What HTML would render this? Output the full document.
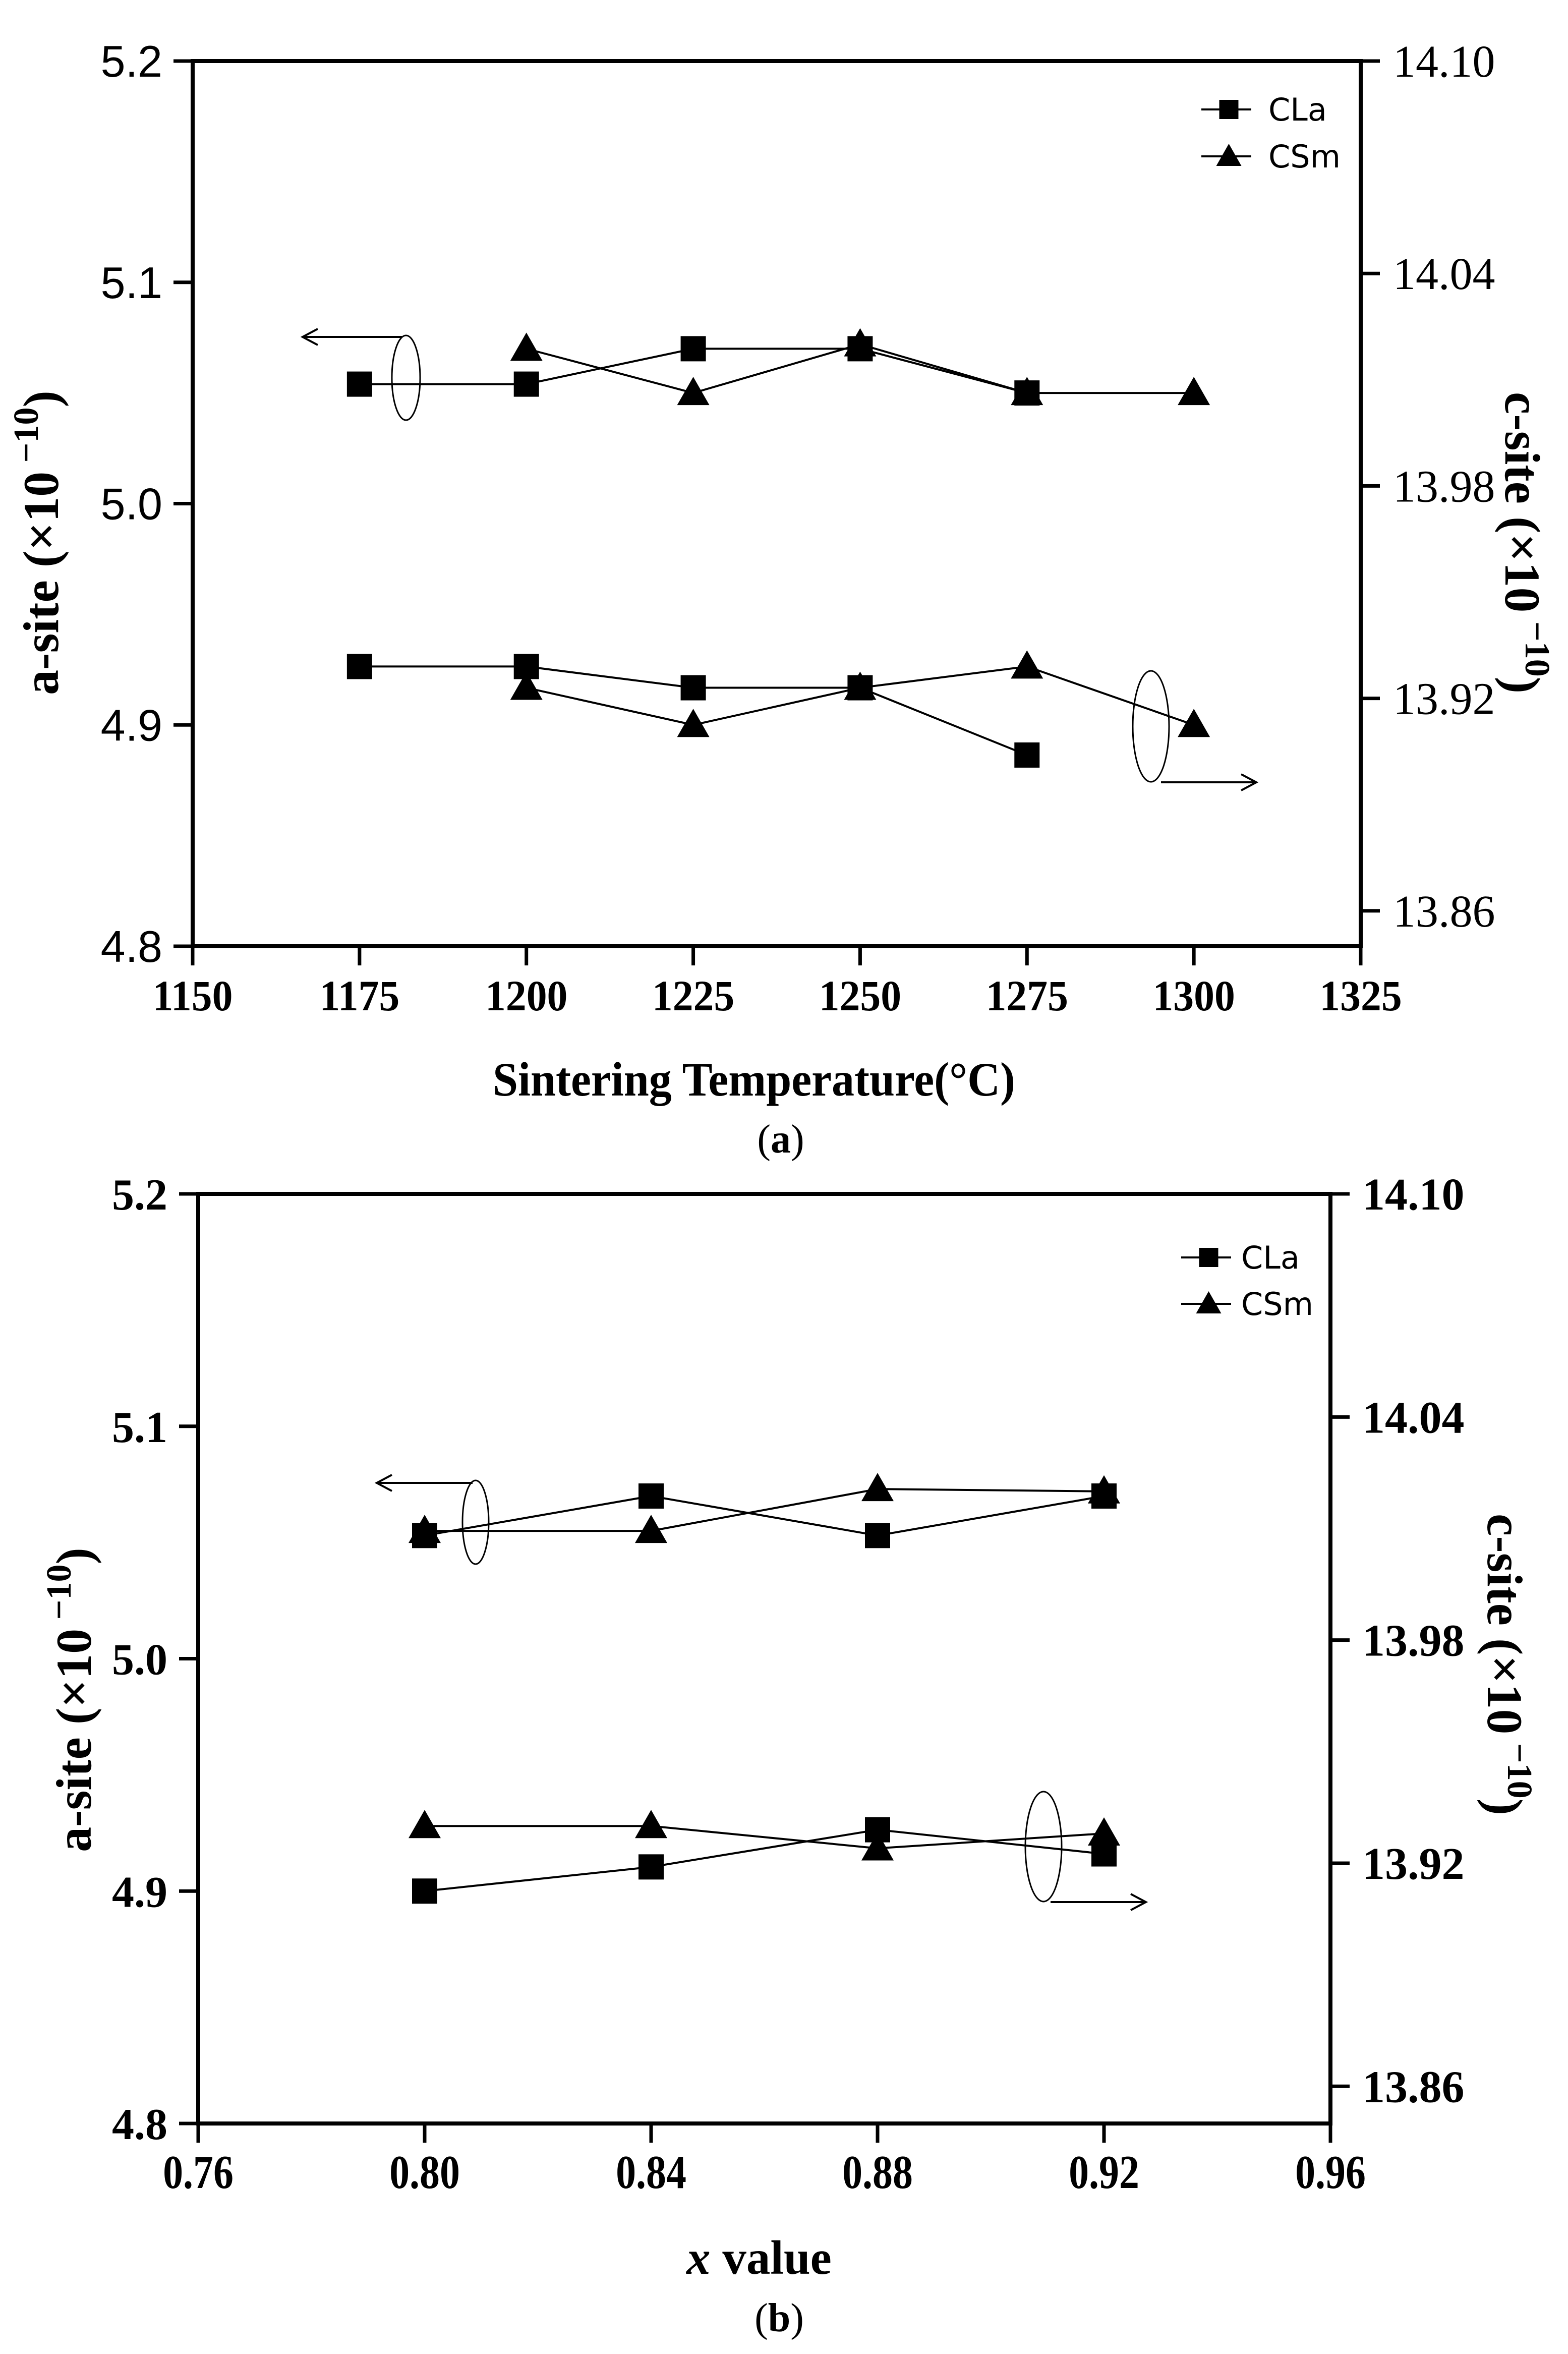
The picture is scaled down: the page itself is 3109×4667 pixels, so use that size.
<!DOCTYPE html>
<html><head><meta charset="utf-8"><style>
html,body{margin:0;padding:0;background:#fff;}
svg{display:block;}
</style></head><body>
<svg id="fig" width="3109" height="4667" viewBox="0 0 3109 4667" xmlns="http://www.w3.org/2000/svg">
<rect width="3109" height="4667" fill="#fff"/>
<g id="pa"></g>
<g id="pb"></g>
</svg>
<script>
// ---------- Panel (a) data ----------
const aX = [1175, 1200, 1225, 1250, 1275, 1300];
const aXTicks = ["1150","1175","1200","1225","1250","1275","1300","1325"];
const aLeftTicks = ["4.8","4.9","5.0","5.1","5.2"];
const aRightTicks = ["13.86","13.92","13.98","14.04","14.10"];
// a-site (left axis)
const aCLa_a = [5.054, 5.054, 5.070, 5.070, 5.050, null];
const aCSm_a = [null, 5.070, 5.050, 5.072, 5.050, 5.050];
// c-site (right axis)
const aCLa_c = [13.929, 13.929, 13.923, 13.923, 13.904, null];
const aCSm_c = [null, 13.923, 13.9125, 13.923, 13.929, 13.9125];

// ---------- Panel (b) data ----------
const bX = [0.80, 0.84, 0.88, 0.92];
const bXTicks = ["0.76","0.80","0.84","0.88","0.92","0.96"];
const bLeftTicks = ["4.8","4.9","5.0","5.1","5.2"];
const bRightTicks = ["13.86","13.92","13.98","14.04","14.10"];
const bCLa_a = [5.053, 5.070, 5.053, 5.070];
const bCSm_a = [5.055, 5.055, 5.073, 5.072];
const bCLa_c = [13.9125, 13.919, 13.929, 13.9225];
const bCSm_c = [13.930, 13.930, 13.924, 13.928];

const NS = "http://www.w3.org/2000/svg";
function mk(parent, tag, attrs, text){
  const e = document.createElementNS(NS, tag);
  for (const k in attrs) e.setAttribute(k, attrs[k]);
  if (text !== undefined) e.textContent = text;
  parent.appendChild(e);
  return e;
}

function panel(g, cfg){
  const L=cfg.L,R=cfg.R,T=cfg.T,B=cfg.B;
  const xs = v => L + (v - cfg.xmin)/(cfg.xmax - cfg.xmin)*(R-L);
  const yl = v => B - (v - 4.8)/(5.2-4.8)*(B-T);
  const yr = v => B - (v - 13.85)/(14.10-13.85)*(B-T);
  const fr = mk(g,'rect',{x:L,y:T,width:R-L,height:B-T,fill:'none',stroke:'#000','stroke-width':8});
  
  
  cfg.xTicks.forEach((t,i)=>{
    const x = xs(parseFloat(t));
    const tk = mk(g,'line',{x1:x,y1:B,x2:x,y2:B+38,stroke:'#000','stroke-width':7});
    
    
    const lb = mk(g,'text',{x:x,y:cfg.xLabY,'text-anchor':'middle','font-family':'Liberation Serif, serif','font-weight':'bold','font-size':cfg.xLabSize,transform:`translate(${x},0) scale(${cfg.xLabSx},1) translate(${-x},0)`},t);
    
    
  });
  cfg.lTicks.forEach(t=>{
    const y = yl(parseFloat(t));
    const tk = mk(g,'line',{x1:L-38,y1:y,x2:L,y2:y,stroke:'#000','stroke-width':7});
    
    
    const lb = mk(g,'text',{x:cfg.lLabX,y:y+31,'text-anchor':'end','font-family':cfg.lFont,'font-weight':cfg.lWeight,'font-size':88},t);
    
    
  });
  cfg.rTicks.forEach(t=>{
    const y = yr(parseFloat(t));
    const tk = mk(g,'line',{x1:R,y1:y,x2:R+38,y2:y,stroke:'#000','stroke-width':7});
    
    
    const lb = mk(g,'text',{x:cfg.rLabX,y:y+31,'text-anchor':'start','font-family':'Liberation Serif, serif','font-weight':cfg.rWeight,'font-size':90},t);
    
    
  });
  function series(xv, yv, ys, kind, name){
    const pts=[];
    xv.forEach((x,i)=>{ if(yv[i]!==null && yv[i]!==undefined) pts.push([xs(x), ys(yv[i])]); });
    const pl = mk(g,'polyline',{points:pts.map(p=>p.join(',')).join(' '),fill:'none',stroke:'#000','stroke-width':4});
    
    
    pts.forEach(p=>{
      let m;
      if(kind==='sq'){
        m = mk(g,'rect',{x:p[0]-25,y:p[1]-25,width:50,height:50,fill:'#000'});
      } else {
        m = mk(g,'polygon',{points:`${p[0]},${p[1]-32} ${p[0]-32},${p[1]+24} ${p[0]+32},${p[1]+24}`,fill:'#000'});
      }
      
      
    });
  }
  series(cfg.x, cfg.claA, yl, 'sq', 'cla-a-site');
  series(cfg.x, cfg.csmA, yl, 'tri', 'csm-a-site');
  series(cfg.x, cfg.claC, yr, 'sq', 'cla-c-site');
  series(cfg.x, cfg.csmC, yr, 'tri', 'csm-c-site');
  cfg.ell.forEach((e,i)=>{
    const el = mk(g,'ellipse',{cx:e[0],cy:e[1],rx:e[2],ry:e[3],fill:'none',stroke:'#000','stroke-width':3});
    
    
  });
  cfg.arr.forEach((a,i)=>{
    const ln = mk(g,'line',{x1:a[0],y1:a[1],x2:a[2],y2:a[1],stroke:'#000','stroke-width':4});
    
    
    const d = a[2]>a[0]?1:-1;
    const hd = mk(g,'polyline',{points:`${a[2]-d*30},${a[1]-16} ${a[2]},${a[1]} ${a[2]-d*30},${a[1]+16}`,fill:'none',stroke:'#000','stroke-width':4});
    
    
  });
  const lg = cfg.leg;
  [['CLa','sq',lg.y1],['CSm','tri',lg.y2]].forEach(it=>{
    const ln = mk(g,'line',{x1:lg.x1,y1:it[2],x2:lg.x2,y2:it[2],stroke:'#000','stroke-width':4});
    
    
    const mx = (lg.x1+lg.x2)/2+5, my = it[2];
    let m;
    if(it[1]==='sq') m = mk(g,'rect',{x:mx-19,y:my-19,width:38,height:38,fill:'#000'});
    else m = mk(g,'polygon',{points:`${mx},${my-25} ${mx-25},${my+19} ${mx+25},${my+19}`,fill:'#000'});
    
    
    const t = mk(g,'text',{x:lg.tx,y:my+22,'font-family':'DejaVu Sans, Liberation Sans, sans-serif','font-size':62},it[0]);
    
    
  });
  const xt = mk(g,'text',{x:cfg.xt[0],y:cfg.xt[1],'text-anchor':'middle','font-family':'Liberation Serif, serif','font-weight':'bold','font-size':95});
  xt.innerHTML = cfg.xtHtml;
  if(cfg.xtLen){ xt.setAttribute('textLength',cfg.xtLen); xt.setAttribute('lengthAdjust','spacingAndGlyphs'); }
  
  
  const lt = mk(g,'text',{x:0,y:0,'text-anchor':'middle','font-family':'Liberation Serif, serif','font-weight':'bold','font-size':100,transform:`translate(${cfg.lt[0]},${cfg.lt[1]}) rotate(-90)`});
  lt.innerHTML = 'a-site (×10<tspan dy="-40" font-size="70"> −10</tspan><tspan dy="40">)</tspan>';
  
  
  const rt = mk(g,'text',{x:0,y:0,'text-anchor':'middle','font-family':'Liberation Serif, serif','font-weight':'bold','font-size':100,transform:`translate(${cfg.rt[0]},${cfg.rt[1]}) rotate(90)`});
  rt.innerHTML = 'c-site (×10<tspan dy="-40" font-size="70"> −10</tspan><tspan dy="40">)</tspan>';
  
  
  const cap = mk(g,'text',{x:cfg.cap[0],y:cfg.cap[1],'text-anchor':'middle','font-family':'Liberation Serif, serif','font-size':80});
  cap.innerHTML = '(<tspan font-weight="bold">'+cfg.capL+'</tspan>)';
  
  
}

panel(document.getElementById('pa'),{
  L:382,R:2698,T:121,B:1876,xmin:1150,xmax:1325,
  x:aX,xTicks:aXTicks,lTicks:aLeftTicks,rTicks:aRightTicks,
  claA:aCLa_a,csmA:aCSm_a,claC:aCLa_c,csmC:aCSm_c,
  xLabY:2003,xLabSize:86,xLabSx:0.95,lLabX:322,lFont:'Liberation Sans, sans-serif',lWeight:'normal',
  rLabX:2762,rWeight:'normal',
  ell:[[805,749,28,84],[2282,1440,36,110]],
  arr:[[797,668,600],[2302,1551,2491]],
  leg:{x1:2382,x2:2481,y1:217,y2:310,tx:2515},
  xt:[1495,2172],xtHtml:'Sintering Temperature(°C)',xtLen:1036,
  lt:[115,1076],rt:[2985,1076],cap:[1548,2285],capL:'a'
});
panel(document.getElementById('pb'),{
  L:393,R:2638,T:2367,B:4210,xmin:0.76,xmax:0.96,
  x:bX,xTicks:bXTicks,lTicks:bLeftTicks,rTicks:bRightTicks,
  claA:bCLa_a,csmA:bCSm_a,claC:bCLa_c,csmC:bCSm_c,
  xLabY:4338,xLabSize:94,xLabSx:0.85,lLabX:332,lFont:'Liberation Serif, serif',lWeight:'bold',
  rLabX:2701,rWeight:'bold',
  ell:[[943,3018,26,83],[2069,3661,36,109]],
  arr:[[937,2940,747],[2083,3771,2272]],
  leg:{x1:2342,x2:2441,y1:2493,y2:2585,tx:2461},
  xt:[1505,4508],xtHtml:'<tspan font-style="italic">x</tspan> value',xtLen:0,
  lt:[180,3370],rt:[2950,3300],cap:[1545,4622],capL:'b'
});
</script>
</body></html>
